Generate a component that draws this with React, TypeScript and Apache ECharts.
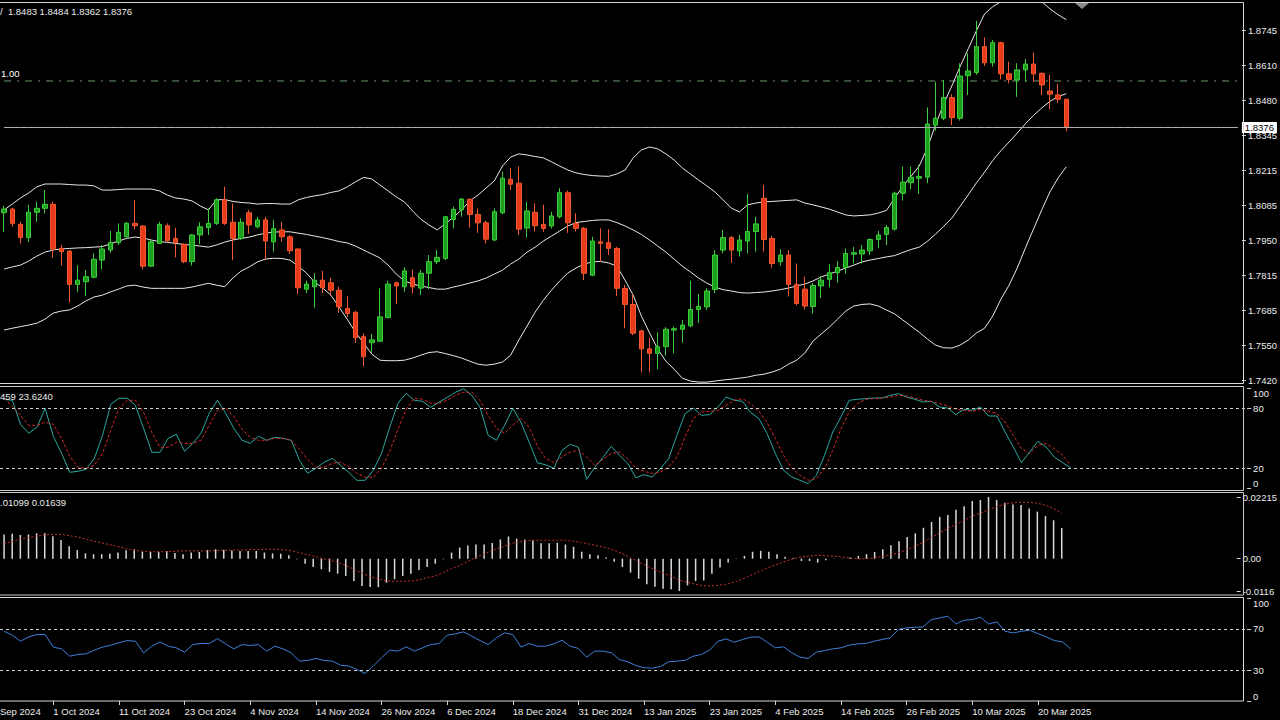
import React, { useEffect, useRef } from 'react';
import * as echarts from 'echarts';

// ---------- data ----------
const startDate = '2024-09-23';
const holidays = ['2024-12-25', '2025-01-01'];
const MONTHS = ['Jan', 'Feb', 'Mar', 'Apr', 'May', 'Jun', 'Jul', 'Aug', 'Sep', 'Oct', 'Nov', 'Dec'];

const open = [
  1.8053, 1.8067, 1.8009, 1.7959, 1.8055, 1.8070, 1.8085, 1.7918, 1.7908, 1.7782,
  1.7792, 1.7809, 1.7874, 1.7912, 1.7940, 1.7962, 1.8013, 1.8003, 1.7851, 1.7937,
  1.8004, 1.7956, 1.7934, 1.7868, 1.7969, 1.7997, 1.8013, 1.8102, 1.8017, 1.7956,
  1.8053, 1.8000, 1.8026, 1.7943, 1.7988, 1.7962, 1.7916, 1.7764, 1.7773, 1.7798,
  1.7788, 1.7760, 1.7691, 1.7676, 1.7584, 1.7561, 1.7567, 1.7657, 1.7788, 1.7773,
  1.7807, 1.7768, 1.7824, 1.7868, 1.7880, 1.8028, 1.8064, 1.8104, 1.8047, 1.8015,
  1.7950, 1.8053, 1.8180, 1.8165, 1.7995, 1.8055, 1.8009, 1.8003, 1.8038, 1.8129,
  1.8013, 1.7994, 1.7817, 1.7943, 1.7940, 1.7918, 1.7767, 1.7706, 1.7606, 1.7538,
  1.7521, 1.7546, 1.7609, 1.7612, 1.7625, 1.7687, 1.7697, 1.7763, 1.7912, 1.7959,
  1.7909, 1.7946, 1.7982, 1.8108, 1.7956, 1.7868, 1.7893, 1.7782, 1.7764, 1.7698,
  1.7776, 1.7801, 1.7826, 1.7846, 1.7896, 1.7897, 1.7909, 1.7952, 1.7971, 1.7991,
  1.8127, 1.8167, 1.8184, 1.8188, 1.8385, 1.8411, 1.8489, 1.8411, 1.8572, 1.8584,
  1.8682, 1.8621, 1.8697, 1.8579, 1.8556, 1.8594, 1.8616, 1.8581, 1.8514, 1.8499,
  1.8483,
];
const close = [
  1.8067, 1.8013, 1.7959, 1.8055, 1.8070, 1.8085, 1.7915, 1.7906, 1.7782, 1.7798,
  1.7811, 1.7877, 1.7916, 1.7941, 1.7979, 1.8013, 1.8004, 1.7851, 1.7943, 1.8009,
  1.7947, 1.7940, 1.7868, 1.7969, 1.8000, 1.8013, 1.8102, 1.8013, 1.7956, 1.8017,
  1.8007, 1.8026, 1.7946, 1.7993, 1.7962, 1.7909, 1.7769, 1.7783, 1.7798, 1.7769,
  1.7760, 1.7697, 1.7672, 1.7580, 1.7508, 1.7572, 1.7659, 1.7783, 1.7776, 1.7833,
  1.7773, 1.7824, 1.7868, 1.7884, 1.8038, 1.8066, 1.8105, 1.8047, 1.8015, 1.7953,
  1.8057, 1.8184, 1.8161, 1.7991, 1.8060, 1.8004, 1.7994, 1.8041, 1.8129, 1.8015,
  1.7994, 1.7824, 1.7946, 1.7937, 1.7918, 1.7767, 1.7706, 1.7597, 1.7538, 1.7521,
  1.7546, 1.7612, 1.7614, 1.7628, 1.7687, 1.7699, 1.7757, 1.7893, 1.7959, 1.7912,
  1.7950, 1.7982, 1.8011, 1.7952, 1.7861, 1.7893, 1.7782, 1.7710, 1.7700, 1.7778,
  1.7798, 1.7826, 1.7846, 1.7899, 1.7902, 1.7912, 1.7952, 1.7969, 1.7997, 1.8127,
  1.8169, 1.8188, 1.8190, 1.8389, 1.8411, 1.8489, 1.8413, 1.8571, 1.8590, 1.8682,
  1.8621, 1.8697, 1.8579, 1.8558, 1.8594, 1.8616, 1.8579, 1.8537, 1.8502, 1.8483,
  1.8376,
];
const high = [
  1.8079, 1.8072, 1.8019, 1.8083, 1.8095, 1.8139, 1.8095, 1.7931, 1.7912, 1.7855,
  1.7836, 1.7900, 1.7931, 1.7984, 1.8013, 1.8019, 1.8102, 1.8007, 1.7950, 1.8019,
  1.8013, 1.7996, 1.7937, 1.7973, 1.8017, 1.8070, 1.8108, 1.8152, 1.8089, 1.8032,
  1.8064, 1.8038, 1.8038, 1.8026, 1.8019, 1.7969, 1.7918, 1.7796, 1.7824, 1.7833,
  1.7807, 1.7773, 1.7737, 1.7682, 1.7597, 1.7594, 1.7767, 1.7796, 1.7792, 1.7847,
  1.7839, 1.7836, 1.7893, 1.7912, 1.8041, 1.8076, 1.8108, 1.8108, 1.8070, 1.8023,
  1.8070, 1.8209, 1.8222, 1.8228, 1.8095, 1.8089, 1.8083, 1.8057, 1.8146, 1.8137,
  1.8051, 1.8000, 1.7962, 1.7994, 1.7991, 1.7924, 1.7780, 1.7744, 1.7610, 1.7578,
  1.7601, 1.7620, 1.7622, 1.7647, 1.7796, 1.7745, 1.7767, 1.7912, 1.7988, 1.7965,
  1.7969, 1.8124, 1.8038, 1.8159, 1.7965, 1.7915, 1.7912, 1.7861, 1.7811, 1.7787,
  1.7814, 1.7858, 1.7870, 1.7918, 1.7924, 1.7931, 1.7956, 1.7984, 1.8007, 1.8133,
  1.8228, 1.8228, 1.8234, 1.8452, 1.8549, 1.8556, 1.8502, 1.8619, 1.8657, 1.8779,
  1.8717, 1.8707, 1.8701, 1.8625, 1.8619, 1.8634, 1.8659, 1.8584, 1.8575, 1.8541,
  1.8484,
];
const low = [
  1.7981, 1.8000, 1.7937, 1.7943, 1.8019, 1.8051, 1.7883, 1.7853, 1.7714, 1.7754,
  1.7738, 1.7805, 1.7839, 1.7902, 1.7931, 1.7960, 1.7991, 1.7839, 1.7848, 1.7935,
  1.7943, 1.7884, 1.7862, 1.7853, 1.7935, 1.7969, 1.8007, 1.8007, 1.7874, 1.7950,
  1.7973, 1.7994, 1.7874, 1.7906, 1.7943, 1.7897, 1.7745, 1.7749, 1.7694, 1.7749,
  1.7742, 1.7674, 1.7659, 1.7560, 1.7472, 1.7523, 1.7564, 1.7653, 1.7707, 1.7754,
  1.7749, 1.7742, 1.7764, 1.7859, 1.7874, 1.7994, 1.8038, 1.7997, 1.7977, 1.7937,
  1.7946, 1.8048, 1.8140, 1.7969, 1.7959, 1.7982, 1.7981, 1.7994, 1.8032, 1.7977,
  1.7982, 1.7798, 1.7813, 1.7868, 1.7893, 1.7738, 1.7616, 1.7590, 1.7449, 1.7449,
  1.7461, 1.7512, 1.7521, 1.7561, 1.7620, 1.7636, 1.7685, 1.7749, 1.7900, 1.7863,
  1.7887, 1.7900, 1.7906, 1.7906, 1.7845, 1.7853, 1.7736, 1.7703, 1.7686, 1.7672,
  1.7731, 1.7771, 1.7788, 1.7823, 1.7861, 1.7861, 1.7893, 1.7919, 1.7931, 1.7986,
  1.8099, 1.8142, 1.8125, 1.8165, 1.8364, 1.8404, 1.8385, 1.8402, 1.8499, 1.8575,
  1.8609, 1.8606, 1.8558, 1.8543, 1.8492, 1.8549, 1.8549, 1.8499, 1.8445, 1.8468,
  1.8362,
];

const bbUpper = [
  1.8064, 1.8086, 1.8109, 1.8128, 1.8151, 1.8162, 1.8162, 1.8162, 1.8160, 1.8158,
  1.8158, 1.8155, 1.8139, 1.8139, 1.8141, 1.8143, 1.8143, 1.8143, 1.8143, 1.8136,
  1.8120, 1.8109, 1.8105, 1.8098, 1.8079, 1.8064, 1.8102, 1.8103, 1.8096, 1.8092,
  1.8090, 1.8086, 1.8088, 1.8088, 1.8086, 1.8086, 1.8102, 1.8111, 1.8117, 1.8122,
  1.8130, 1.8136, 1.8151, 1.8170, 1.8187, 1.8181, 1.8158, 1.8136, 1.8113, 1.8094,
  1.8060, 1.8029, 1.8007, 1.7988, 1.8011, 1.8037, 1.8064, 1.8098, 1.8120, 1.8147,
  1.8174, 1.8230, 1.8264, 1.8276, 1.8272, 1.8266, 1.8261, 1.8246, 1.8230, 1.8215,
  1.8204, 1.8198, 1.8194, 1.8192, 1.8191, 1.8200, 1.8215, 1.8261, 1.8291, 1.8302,
  1.8295, 1.8276, 1.8253, 1.8223, 1.8200, 1.8177, 1.8155, 1.8132, 1.8102, 1.8071,
  1.8056, 1.8083, 1.8090, 1.8094, 1.8096, 1.8098, 1.8100, 1.8102, 1.8090, 1.8083,
  1.8075, 1.8067, 1.8056, 1.8045, 1.8041, 1.8043, 1.8045, 1.8052, 1.8062, 1.8109,
  1.8153, 1.8191, 1.8230, 1.8298, 1.8386, 1.8465, 1.8534, 1.8606, 1.8674, 1.8742,
  1.8806, 1.8833, 1.8852, 1.8871, 1.8882, 1.8882, 1.8871, 1.8852, 1.8825, 1.8803,
  1.8784,
];
const bbMiddle = [
  1.7840, 1.7848, 1.7855, 1.7870, 1.7889, 1.7904, 1.7912, 1.7916, 1.7918, 1.7920,
  1.7921, 1.7923, 1.7925, 1.7935, 1.7946, 1.7956, 1.7961, 1.7958, 1.7950, 1.7944,
  1.7941, 1.7937, 1.7933, 1.7931, 1.7927, 1.7923, 1.7931, 1.7942, 1.7950, 1.7956,
  1.7961, 1.7969, 1.7976, 1.7980, 1.7981, 1.7981, 1.7976, 1.7971, 1.7965, 1.7959,
  1.7952, 1.7944, 1.7939, 1.7927, 1.7912, 1.7897, 1.7882, 1.7855, 1.7821, 1.7795,
  1.7783, 1.7776, 1.7770, 1.7764, 1.7764, 1.7772, 1.7779, 1.7787, 1.7795, 1.7806,
  1.7821, 1.7836, 1.7859, 1.7878, 1.7904, 1.7923, 1.7946, 1.7965, 1.7984, 1.8003,
  1.8016, 1.8020, 1.8024, 1.8026, 1.8026, 1.8016, 1.8003, 1.7988, 1.7971, 1.7950,
  1.7927, 1.7904, 1.7878, 1.7851, 1.7829, 1.7806, 1.7787, 1.7772, 1.7762, 1.7757,
  1.7751, 1.7749, 1.7751, 1.7753, 1.7757, 1.7762, 1.7768, 1.7776, 1.7783, 1.7795,
  1.7810, 1.7821, 1.7832, 1.7844, 1.7855, 1.7867, 1.7874, 1.7880, 1.7886, 1.7891,
  1.7903, 1.7914, 1.7923, 1.7945, 1.7972, 1.8002, 1.8033, 1.8077, 1.8121, 1.8166,
  1.8207, 1.8251, 1.8288, 1.8321, 1.8355, 1.8390, 1.8422, 1.8450, 1.8475, 1.8493,
  1.8504,
];
const bbLower = [
  1.7609, 1.7616, 1.7622, 1.7628, 1.7635, 1.7650, 1.7673, 1.7681, 1.7685, 1.7700,
  1.7719, 1.7734, 1.7741, 1.7753, 1.7764, 1.7776, 1.7779, 1.7772, 1.7767, 1.7767,
  1.7767, 1.7767, 1.7767, 1.7772, 1.7779, 1.7786, 1.7779, 1.7773, 1.7806, 1.7832,
  1.7848, 1.7867, 1.7878, 1.7881, 1.7880, 1.7874, 1.7851, 1.7825, 1.7791, 1.7768,
  1.7741, 1.7696, 1.7650, 1.7601, 1.7560, 1.7518, 1.7495, 1.7493, 1.7493, 1.7495,
  1.7503, 1.7514, 1.7524, 1.7527, 1.7520, 1.7512, 1.7503, 1.7491, 1.7480, 1.7476,
  1.7480, 1.7488, 1.7514, 1.7571, 1.7624, 1.7677, 1.7722, 1.7760, 1.7795, 1.7825,
  1.7844, 1.7859, 1.7867, 1.7869, 1.7863, 1.7851, 1.7798, 1.7741, 1.7662, 1.7598,
  1.7537, 1.7491, 1.7461, 1.7427, 1.7416, 1.7412, 1.7412, 1.7416, 1.7420, 1.7423,
  1.7427, 1.7431, 1.7438, 1.7442, 1.7450, 1.7461, 1.7480, 1.7495, 1.7522, 1.7567,
  1.7594, 1.7620, 1.7650, 1.7681, 1.7700, 1.7706, 1.7708, 1.7700, 1.7685, 1.7670,
  1.7647, 1.7624, 1.7601, 1.7575, 1.7552, 1.7542, 1.7541, 1.7552, 1.7571, 1.7598,
  1.7616, 1.7662, 1.7726, 1.7779, 1.7844, 1.7920, 1.7992, 1.8064, 1.8132, 1.8185,
  1.8227,
];

const stochMain = [
  89, 88, 64, 55, 61, 80, 52, 35, 16, 17,
  19, 30, 53, 84, 90, 90, 83, 60, 36, 36,
  50, 54, 37, 45, 55, 75, 88, 75, 60, 48,
  45, 52, 48, 51, 50, 48, 28, 15, 20, 26,
  30, 23, 16, 8, 8, 18, 35, 61, 85, 95,
  88, 87, 81, 86, 91, 96, 99.5, 93, 81, 53,
  48, 63, 80, 66, 46, 25.5, 23.5, 20, 38, 44,
  41, 9, 21, 31, 42, 33, 25, 10.5, 13.7, 11.3,
  19.7, 29.7, 53, 74.7, 80.3, 73, 73.7, 81.3, 91.3, 88,
  87, 75.7, 69.7, 54.7, 34.7, 18, 11.3, 8, 4.7, 13,
  33, 56.3, 71.3, 88, 89, 89.7, 90.3, 90.3, 93, 94.7,
  91.3, 89, 86.3, 87, 81.3, 80.3, 73.7, 79, 78, 81.3,
  72.3, 72.3, 56.3, 41.3, 25.7, 36.3, 47, 41.3, 31.3, 25.7,
  20.5,
];
const stochSignal = [
  90, 82, 73, 63, 63, 66, 64, 50, 32, 21,
  20, 23, 35, 58, 80, 88, 88, 76, 56, 41,
  41, 46, 45, 45, 48, 63, 78, 80, 72, 59,
  51, 48, 48, 50, 50, 48, 39, 29, 21, 21,
  25, 26, 22, 15, 11, 11, 20, 37, 59, 79,
  90, 89, 85, 85, 88, 93, 96, 96, 88, 73,
  60, 55, 63, 70, 61, 42, 30, 25.7, 31.3, 36.3,
  38, 31.3, 23, 29, 34.7, 36.3, 29.7, 20.3, 17, 14.7,
  16.3, 21.3, 31.3, 51.3, 69.7, 76.3, 77, 78, 83, 88,
  89.7, 84.7, 77, 65.7, 49.7, 33, 20.3, 13, 8, 9.7,
  19.7, 38, 59.7, 76.3, 84.7, 89, 89.7, 90.3, 91.3, 93,
  92.3, 90.3, 88, 87, 84.7, 82.3, 79, 78, 77, 79,
  77, 74.7, 66.3, 53, 39.7, 34.7, 43, 44.7, 39.7, 33,
  23.624,
];

const macdHist = [
  0.0087, 0.0090, 0.0085, 0.0087, 0.0091, 0.0092, 0.0081, 0.0067, 0.0045, 0.0031,
  0.0019, 0.0016, 0.0016, 0.0018, 0.0022, 0.0030, 0.0034, 0.0025, 0.0024, 0.0025,
  0.0028, 0.0020, 0.0016, 0.0022, 0.0024, 0.0031, 0.0034, 0.0032, 0.0029, 0.0028,
  0.0028, 0.0028, 0.0022, 0.0019, 0.0018, 0.0012, -0.0002, -0.0018, -0.0030, -0.0038,
  -0.0047, -0.0054, -0.0062, -0.0080, -0.0098, -0.0102, -0.0102, -0.0086, -0.0074, -0.0062,
  -0.0054, -0.0041, -0.0030, -0.0018, -0.0002, 0.0022, 0.0040, 0.0047, 0.0051, 0.0051,
  0.0056, 0.0069, 0.0080, 0.0072, 0.0069, 0.0066, 0.0055, 0.0055, 0.0057, 0.0051,
  0.0043, 0.0025, 0.0016, 0.0012, 0.0004, -0.0011, -0.0030, -0.0050, -0.0072, -0.0092,
  -0.0101, -0.0108, -0.0110, -0.0116, -0.0096, -0.0080, -0.0078, -0.0054, -0.0032, -0.0014,
  0.0001, 0.0010, 0.0025, 0.0028, 0.0025, 0.0016, 0.0007, 0.0003, -0.0008, -0.0008,
  -0.0014, -0.0006, 0.0001, -0.0001, 0.0004, 0.0010, 0.0016, 0.0024, 0.0034, 0.0048,
  0.0063, 0.0078, 0.0091, 0.0111, 0.0132, 0.0150, 0.0157, 0.0176, 0.0188, 0.0207,
  0.0211, 0.02215, 0.0211, 0.0201, 0.0195, 0.0193, 0.0180, 0.0169, 0.0153, 0.0138,
  0.01099,
];
const macdSignal = [
  0.0053, 0.0062, 0.0071, 0.0076, 0.0081, 0.0085, 0.0087, 0.0087, 0.0083, 0.0078,
  0.0071, 0.0063, 0.0057, 0.0050, 0.0044, 0.0036, 0.0031, 0.0027, 0.0025, 0.0025,
  0.0025, 0.0027, 0.0028, 0.0028, 0.0028, 0.0028, 0.0029, 0.0030, 0.0031, 0.0031,
  0.0032, 0.0033, 0.0034, 0.0034, 0.0033, 0.0030, 0.0024, 0.0016, 0.0010, 0.0002,
  -0.0005, -0.0013, -0.0025, -0.0038, -0.0052, -0.0065, -0.0072, -0.0080, -0.0081, -0.0081,
  -0.0080, -0.0076, -0.0068, -0.0062, -0.0050, -0.0036, -0.0025, -0.0010, 0.0005, 0.0016,
  0.0030, 0.0040, 0.0051, 0.0060, 0.0064, 0.0066, 0.0066, 0.0066, 0.0066, 0.0066,
  0.0063, 0.0058, 0.0052, 0.0046, 0.0040, 0.0030, 0.0018, 0.0004, -0.0012, -0.0026,
  -0.0040, -0.0051, -0.0063, -0.0077, -0.0085, -0.0092, -0.0097, -0.0098, -0.0095, -0.0090,
  -0.0082, -0.0070, -0.0056, -0.0044, -0.0031, -0.0020, -0.0010, 0.0000, 0.0006, 0.0010,
  0.0012, 0.0011, 0.0009, 0.0006, 0.0002, -0.0001, 0.0000, 0.0003, 0.0008, 0.0014,
  0.0022, 0.0032, 0.0045, 0.0060, 0.0077, 0.0093, 0.0108, 0.0123, 0.0138, 0.0152,
  0.0164, 0.0176, 0.0187, 0.0196, 0.0201, 0.0203, 0.0202, 0.0199, 0.0192, 0.0180,
  0.01639,
];

const rsi = [
  67.7, 63.9, 58, 62.3, 64.5, 64.5, 52.3, 50.6, 43.5, 45.2,
  45.8, 49.4, 52.3, 54.2, 56.5, 58.7, 58, 46.8, 53.2, 57.4,
  53.2, 51.6, 47.4, 54.8, 55.8, 55.8, 60.6, 55.5, 50.6, 54.8,
  53.9, 54.8, 48.4, 53.2, 50.6, 46.8, 38.7, 39.4, 41.3, 39.4,
  38.7, 34.8, 33.9, 30.6, 26.8, 33.9, 41.9, 49.4, 48.4, 52.6,
  48.4, 51.6, 54.8, 55.8, 63.9, 65.2, 67.1, 62.9, 58.7, 54.8,
  61.3, 66.1, 64.5, 52.3, 55.8, 53.2, 53.2, 55.5, 59, 53.2,
  51, 42.6, 48.4, 48.4, 46.8, 40.3, 38.1, 34.5, 32.3, 31.9,
  33.5, 38.1, 38.7, 39.4, 43.5, 45.2, 49.4, 58, 60.3, 57.1,
  59.7, 61.9, 62.3, 57.1, 51.6, 52.6, 46.8, 42.6, 41.3, 47.4,
  49, 50.6, 51.6, 54.2, 55.5, 55.8, 58, 59.7, 61.3, 69.4,
  71, 71.6, 71.9, 79, 80.6, 82.3, 74.8, 78.4, 79, 81.3,
  74.8, 76.8, 67.7, 66.1, 67.7, 68.7, 65.5, 62.3, 58.7, 57.4,
  50.6,
];

const priceTickValues = [1.742, 1.75525, 1.7685, 1.78175, 1.795, 1.80825, 1.8215, 1.83475, 1.848, 1.86125, 1.8745];
const priceTickLabels = ['1.7420', '1.7550', '1.7685', '1.7815', '1.7950', '1.8085', '1.8215', '1.8345', '1.8480', '1.8610', '1.8745'];
const stochTicks = [0, 20, 80, 100];
const stochLevels = [80, 20];
const macdTickValues = [-0.0116, 0, 0.02215];
const macdTickLabels = ['-0.0116', '0.00', '0.02215'];
const rsiTicks = [0, 30, 70, 100];
const rsiLevels = [70, 30];
const lastPrice = 1.8376;
const fiboLevel = 1.8552;
const fiboLabel = '1.00';
const headerMain = '/  1.8483 1.8484 1.8362 1.8376';
const headerStoch = '459 23.6240';
const headerMacd = '.01099 0.01639';

// ---------- layout constants ----------
const CAT_COUNT = 152;
const GRID_LEFT = -0.8;
const GRID_WIDTH = 152 * 8.21;
const PRICE_MIN = 1.742 - (3 / 35) * 0.01325;
const PRICE_MAX = 1.8745 + (27 / 35) * 0.01325;
const FONT = 'Liberation Sans';
const TXT = '#ececec';

function buildCategories(): string[] {
  const out: string[] = [];
  const d = new Date(startDate + 'T00:00:00Z');
  while (out.length < open.length) {
    const iso = d.toISOString().slice(0, 10);
    const wd = d.getUTCDay();
    if (wd !== 0 && wd !== 6 && !holidays.includes(iso)) {
      out.push(`${d.getUTCDate()} ${MONTHS[d.getUTCMonth()]} ${d.getUTCFullYear()}`);
    }
    d.setUTCDate(d.getUTCDate() + 1);
  }
  for (let i = out.length; i < CAT_COUNT; i++) out.push('x' + i);
  return out;
}

function nearestLabel(v: number, values: number[], labels: string[]): string {
  let best = 0;
  for (let i = 1; i < values.length; i++) {
    if (Math.abs(values[i] - v) < Math.abs(values[best] - v)) best = i;
  }
  return labels[best];
}

function buildOption(): any {
  const cats = buildCategories();
  const showIdx = (i: number) => i >= 6 && i < open.length && (i - 6) % 8 === 0;

  const baseX = (gridIndex: number, show: boolean) => ({
    type: 'category',
    gridIndex,
    data: cats,
    boundaryGap: true,
    show,
    axisLine: { show: false },
    axisTick: {
      show,
      interval: (i: number) => showIdx(i),
      alignWithLabel: true,
      length: 4,
      lineStyle: { color: '#d0d0d0' },
    },
    axisLabel: {
      show,
      interval: (i: number) => showIdx(i),
      align: 'left',
      margin: 5,
      color: TXT,
      fontSize: 9.5,
      fontFamily: FONT,
    },
    splitLine: { show: false },
  });

  const yCommon = {
    position: 'right',
    axisLine: { show: false },
    splitLine: { show: false },
  };
  const tickStyle = { show: true, length: 4, lineStyle: { color: '#d0d0d0' } };
  const labelStyle = { color: TXT, fontSize: 9.5, fontFamily: FONT, margin: 6 };

  const levelLine = (vals: number[]) => ({
    silent: true,
    symbol: ['none', 'none'],
    label: { show: false },
    lineStyle: { color: '#cfcfcf', type: [3, 3], width: 1 },
    data: vals.map((v) => ({ yAxis: v })),
  });

  const lineSeries = (name: string, data: any[], xi: number, color: string, type: any = 'solid') => ({
    name,
    type: 'line',
    xAxisIndex: xi,
    yAxisIndex: xi,
    data,
    symbol: 'none',
    silent: true,
    lineStyle: { color, width: 1, type },
    z: 3,
  });

  // horizontal price objects, one value per category slot
  const lastPriceData = cats.map(() => lastPrice);
  const fiboData = cats.map(() => fiboLevel);

  return {
    animation: false,
    backgroundColor: '#000',
    grid: [
      { left: GRID_LEFT, top: 3, width: GRID_WIDTH, height: 380 },
      { left: GRID_LEFT, top: 388.3, width: GRID_WIDTH, height: 100 },
      { left: GRID_LEFT, top: 497, width: GRID_WIDTH, height: 94 },
      { left: GRID_LEFT, top: 598, width: GRID_WIDTH, height: 103 },
    ],
    xAxis: [baseX(0, false), baseX(1, false), baseX(2, false), baseX(3, true)],
    yAxis: [
      {
        ...yCommon,
        type: 'value',
        gridIndex: 0,
        min: PRICE_MIN,
        max: PRICE_MAX,
        axisTick: { ...tickStyle, customValues: priceTickValues },
        axisLabel: {
          ...labelStyle,
          customValues: priceTickValues,
          formatter: (v: number) => nearestLabel(v, priceTickValues, priceTickLabels),
        },
      },
      {
        ...yCommon,
        type: 'value',
        gridIndex: 1,
        min: 0,
        max: 100,
        axisTick: { ...tickStyle, customValues: stochTicks },
        axisLabel: {
          ...labelStyle,
          customValues: stochTicks,
          verticalAlignMinLabel: 'bottom',
          verticalAlignMaxLabel: 'top',
          formatter: (v: number) => String(Math.round(v)),
        },
      },
      {
        ...yCommon,
        type: 'value',
        gridIndex: 2,
        min: macdTickValues[0],
        max: macdTickValues[2],
        axisTick: { ...tickStyle, customValues: macdTickValues },
        axisLabel: {
          ...labelStyle,
          customValues: macdTickValues,
          formatter: (v: number) => nearestLabel(v, macdTickValues, macdTickLabels),
        },
      },
      {
        ...yCommon,
        type: 'value',
        gridIndex: 3,
        min: 0,
        max: 100,
        axisTick: { ...tickStyle, customValues: rsiTicks },
        axisLabel: {
          ...labelStyle,
          customValues: rsiTicks,
          verticalAlignMinLabel: 'bottom',
          verticalAlignMaxLabel: 'top',
          formatter: (v: number) => String(Math.round(v)),
        },
      },
    ],
    series: [
      {
        ...lineSeries('Fibo 1.00', fiboData, 0, '#6a9c6a', [7, 6, 2, 6]),
        z: 2,
        showSymbol: true,
        symbol: 'circle',
        symbolSize: 0,
        label: {
          show: true,
          position: 'top',
          align: 'left',
          distance: 2,
          offset: [-3, 0],
          formatter: (p: any) => (p.dataIndex === 0 ? fiboLabel : ''),
          color: '#ffffff',
          fontSize: 9.5,
          fontFamily: FONT,
        },
      },
      {
        ...lineSeries('Last price', lastPriceData, 0, '#b4b4b4'),
        z: 6,
        endLabel: {
          show: true,
          distance: 4,
          formatter: lastPrice.toFixed(4),
          backgroundColor: '#ffffff',
          color: '#000000',
          fontSize: 9.5,
          fontFamily: FONT,
          padding: [1, 3, 0, 3],
        },
      },
      lineSeries('BB upper', bbUpper, 0, '#e8e8e8'),
      lineSeries('BB middle', bbMiddle, 0, '#e8e8e8'),
      lineSeries('BB lower', bbLower, 0, '#e8e8e8'),
      {
        name: 'Price',
        type: 'candlestick',
        xAxisIndex: 0,
        yAxisIndex: 0,
        barWidth: 5,
        silent: true,
        z: 4,
        data: open.map((o, i) => [o, close[i], low[i], high[i]]),
        itemStyle: {
          color: '#1e9e1e',
          color0: '#ea3a1c',
          borderColor: '#3ccf3c',
          borderColor0: '#f25a30',
          borderWidth: 1,
        },
      },
      {
        ...lineSeries('Stoch main', stochMain, 1, '#2aa8a0'),
        markLine: levelLine(stochLevels),
      },
      lineSeries('Stoch signal', stochSignal, 1, '#d42a2a', [3, 2]),
      {
        name: 'MACD',
        type: 'bar',
        xAxisIndex: 2,
        yAxisIndex: 2,
        data: macdHist,
        barWidth: 1.5,
        silent: true,
        itemStyle: { color: '#dadada' },
      },
      lineSeries('MACD signal', macdSignal, 2, '#c83030', [2, 2]),
      {
        ...lineSeries('RSI', rsi, 3, '#3f7fd8'),
        markLine: levelLine(rsiLevels),
      },
    ],
    graphic: [
      { type: 'rect', silent: true, z: 10, shape: { x: -2, y: 2.5, width: 1245.5, height: 381 }, style: { fill: 'none', stroke: '#d8d8d8', lineWidth: 1 } },
      { type: 'rect', silent: true, z: 10, shape: { x: -2, y: 386.5, width: 1245.5, height: 104 }, style: { fill: 'none', stroke: '#c8c8c8', lineWidth: 1 } },
      { type: 'rect', silent: true, z: 10, shape: { x: -2, y: 492.5, width: 1245.5, height: 102.5 }, style: { fill: 'none', stroke: '#c8c8c8', lineWidth: 1 } },
      { type: 'rect', silent: true, z: 10, shape: { x: -2, y: 597.5, width: 1245.5, height: 103.5 }, style: { fill: 'none', stroke: '#d8d8d8', lineWidth: 1 } },
      { type: 'polygon', silent: true, z: 11, shape: { points: [[1075, 3], [1089, 3], [1082, 9]] }, style: { fill: '#8a8a8a' } },
      { type: 'text', silent: true, z: 12, style: { text: headerMain, x: 0, y: 11, fill: TXT, fontSize: 9.5, fontFamily: FONT, verticalAlign: 'middle' } },
      { type: 'text', silent: true, z: 12, style: { text: headerStoch, x: 0, y: 396, fill: TXT, fontSize: 9.5, fontFamily: FONT, verticalAlign: 'middle' } },
      { type: 'text', silent: true, z: 12, style: { text: headerMacd, x: 0, y: 502, fill: TXT, fontSize: 9.5, fontFamily: FONT, verticalAlign: 'middle' } },
      { type: 'text', silent: true, z: 12, style: { text: 'Sep 2024', x: 0, y: 711, fill: TXT, fontSize: 9.5, fontFamily: FONT, verticalAlign: 'middle' } },
    ],
  };
}

export default function App() {
  const ref = useRef<HTMLDivElement>(null);
  useEffect(() => {
    if (!ref.current) return;
    const chart = echarts.init(ref.current, null, { renderer: 'svg' });
    chart.setOption(buildOption());
    return () => chart.dispose();
  }, []);
  return (
    <div
      ref={ref}
      style={{ position: 'fixed', left: 0, top: 0, width: 1280, height: 720, background: '#000' }}
    />
  );
}
